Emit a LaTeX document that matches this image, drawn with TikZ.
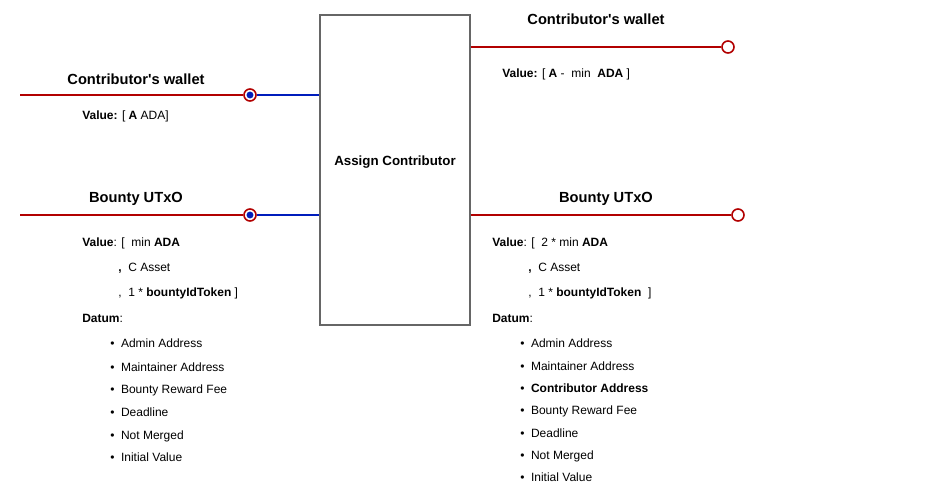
\documentclass[tikz,border=0pt]{standalone}
\usepackage{fontspec}
\setmainfont{Liberation Sans}
\usetikzlibrary{positioning}
\definecolor{wirered}{HTML}{B20000}
\definecolor{wireblue}{HTML}{001DBC}
\definecolor{boxgray}{HTML}{666666}
\tikzstyle{block} = [rectangle, draw=boxgray, line width=0.8pt,
    minimum width=112.5pt, minimum height=232.5pt, inner sep=0pt]
\tikzstyle{redline} = [draw=wirered, line width=1.4pt]
\tikzstyle{blueline} = [draw=wireblue, line width=1.4pt]
\tikzstyle{outport} = [circle, draw=wirered, line width=1.2pt, fill=white,
    minimum size=9pt, inner sep=0pt]
\tikzstyle{inport} = [outport, path picture={
    \fill[wireblue] (path picture bounding box.center) circle (2.6pt);}]
\tikzstyle{title} = [font=\bfseries\fontsize{11}{13}\selectfont, inner sep=0pt]
\tikzstyle{info} = [anchor=west, font=\fontsize{9}{11}\selectfont, inner sep=0pt, yshift=-1.2pt]

\begin{document}
\begin{tikzpicture}[x=0.75pt, y=-0.75pt]
        \useasboundingbox (0,0) rectangle (933,499);

        % Place nodes
        \node [block] (assign) at (395,170) {};
        \node [font=\bfseries\fontsize{10}{12}\selectfont] (assignlbl) at (395,162) {Assign Contributor};

        \coordinate (walletin) at (20,95);
        \node [inport] (walletport) at (250,95) {};
        \coordinate (bountyin) at (20,215);
        \node [inport] (bountyport) at (250,215) {};
        \node [outport] (walletout) at (728,47) {};
        \node [outport] (bountyout) at (738,215) {};

        % Draw edges
        \path [redline] (walletin) -- (walletport);
        \path [blueline] (walletport) -- (assign.west |- walletport);
        \path [redline] (bountyin) -- (bountyport);
        \path [blueline] (bountyport) -- (assign.west |- bountyport);
        \path [redline] (assign.east |- walletout) -- (walletout);
        \path [redline] (assign.east |- bountyout) -- (bountyout);

        % Left side texts
        \node [title] (walletttl) at (136,79) {Contributor\textquotesingle s wallet};
        \node [info] (walletval) at (82,115) {\textbf{Value:} [ \textbf{A} ADA]};
        \node [title] (bountyttl) at (136,199) {Bounty UTxO};
        \node [info] (bountyval) at (82,242) {\textbf{Value}: [\ \ min \textbf{ADA}};
        \node [info] (bountyast) at (118,267) {\textbf{,}\ \ C Asset};
        \node [info] (bountytok) at (118,292) {,\ \ 1 * \textbf{bountyIdToken} ]};
        \node [info] (datum) at (82,317) {\textbf{Datum}:};
        \node [info] (dadmin) at (110,342) {\textbullet\hspace{0.55em}Admin Address};
        \node [info] (dmaint) at (110,366) {\textbullet\hspace{0.55em}Maintainer Address};
        \node [info] (dfee) at (110,389) {\textbullet\hspace{0.55em}Bounty Reward Fee};
        \node [info] (ddead) at (110,411) {\textbullet\hspace{0.55em}Deadline};
        \node [info] (dmerged) at (110,435) {\textbullet\hspace{0.55em}Not Merged};
        \node [info] (dinit) at (110,456) {\textbullet\hspace{0.55em}Initial Value};

        % Right side texts
        \node [title] (walletttl2) at (596,19) {Contributor\textquotesingle s wallet};
        \node [info] (walletval2) at (502,73) {\textbf{Value:} [ \textbf{A} -\ \ min\ \ \textbf{ADA} ]};
        \node [title] (bountyttl2) at (606,199) {Bounty UTxO};
        \node [info] (bountyval2) at (492,242) {\textbf{Value}: [\ \ 2 * min \textbf{ADA}};
        \node [info] (bountyast2) at (528,267) {\textbf{,}\ \ C Asset};
        \node [info] (bountytok2) at (528,292) {,\ \ 1 * \textbf{bountyIdToken}\ \ ]};
        \node [info] (datum2) at (492,317) {\textbf{Datum}:};
        \node [info] (dadmin2) at (520,342) {\textbullet\hspace{0.55em}Admin Address};
        \node [info] (dmaint2) at (520,365) {\textbullet\hspace{0.55em}Maintainer Address};
        \node [info] (dcontr2) at (520,387) {\textbullet\hspace{0.55em}\textbf{Contributor Address}};
        \node [info] (dfee2) at (520,410) {\textbullet\hspace{0.55em}Bounty Reward Fee};
        \node [info] (ddead2) at (520,432) {\textbullet\hspace{0.55em}Deadline};
        \node [info] (dmerged2) at (520,455) {\textbullet\hspace{0.55em}Not Merged};
        \node [info] (dinit2) at (520,476) {\textbullet\hspace{0.55em}Initial Value};
    \end{tikzpicture}
\end{document}
